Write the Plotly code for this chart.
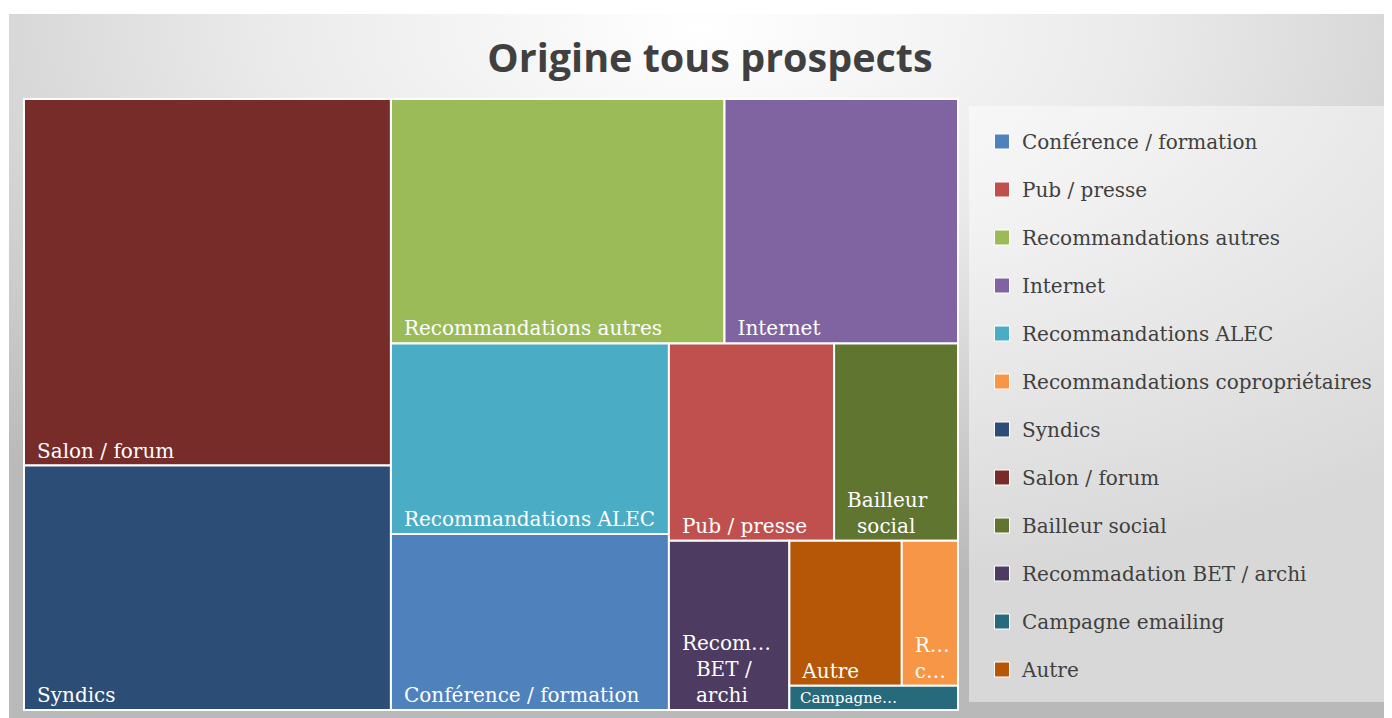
import base64
import plotly.graph_objects as go

# ---- data ----
categories = [
    "Conférence / formation",
    "Pub / presse",
    "Recommandations autres",
    "Internet",
    "Recommandations ALEC",
    "Recommandations copropriétaires",
    "Syndics",
    "Salon / forum",
    "Bailleur social",
    "Recommadation BET / archi",
    "Campagne emailing",
    "Autre",
]
values = [12, 8, 20, 14, 13, 2, 22, 33, 6, 5, 1, 4]
# text shown inside each tile (as truncated / wrapped in the original)
tile_text = [
    "Conférence / formation",
    "Pub / presse",
    "Recommandations autres",
    "Internet",
    "Recommandations ALEC",
    "R…<br>c…",
    "Syndics",
    "Salon / forum",
    "Bailleur<br>\u2002social",
    "Recom…<br>\u2002\u2009BET /<br>\u2002\u2009archi",
    "Campagne…",
    "Autre",
]
colors = [
    "#4F81BD", "#C0504D", "#9BBB59", "#8064A2", "#4BACC6", "#F79646",
    "#2C4D75", "#772C2A", "#5F7530", "#4D3B62", "#276A7C", "#B65708",
]

# page body has an 8px margin: figure is drawn from screen (8, 8)
OX, OY = 8, 8
W, H = 1392 - OX, 718 - OY


def fx(x):
    return (x - OX) / W


def fy(y):
    return 1 - (y - OY) / H


SERIF = "DejaVu Serif"
PAD = "\u2002"

fig = go.Figure()

fig.add_trace(go.Treemap(
    labels=categories,
    parents=[""] * len(categories),
    values=values,
    text=[PAD + t.replace("<br>", "<br>" + PAD) for t in tile_text],
    texttemplate="%{text}",
    textposition="bottom left",
    textfont=dict(family=SERIF, size=20, color="white"),
    marker=dict(colors=colors, line=dict(color="white", width=2),
                pad=dict(t=0, l=0, r=0, b=0)),
    tiling=dict(packing="squarify", squarifyratio=1.236, pad=0),
    pathbar=dict(visible=False),
    sort=True,
    hoverinfo="label+value",
    domain=dict(x=[fx(24), fx(958)], y=[fy(710), fy(99)]),
))

# legend entries (dummy traces)
for i, (name, c) in enumerate(zip(categories, colors)):
    fig.add_trace(go.Scatter(
        x=[None], y=[None], mode="markers", name=name,
        legendgroup=f"g{i}",
        marker=dict(symbol="square", size=15, color=c,
                    line=dict(color="white", width=1)),
    ))

gw, gh = 1392 - 9, 718 - 14
svg = f"""<svg xmlns='http://www.w3.org/2000/svg' width='{gw}' height='{gh}' viewBox='0 0 {gw} {gh}' preserveAspectRatio='none'>
<defs><radialGradient id='g' cx='0.5' cy='0.02' r='0.8' gradientUnits='objectBoundingBox'>
<stop offset='0' stop-color='#ffffff'/><stop offset='0.4' stop-color='#eaeaea'/><stop offset='1' stop-color='#b9b9b9'/></radialGradient></defs>
<rect x='0' y='0' width='{gw}' height='{gh}' fill='url(#g)'/></svg>"""
src = "data:image/svg+xml;base64," + base64.b64encode(svg.encode()).decode()

fig.update_layout(
    width=W, height=H,
    margin=dict(l=0, r=0, t=0, b=0),
    paper_bgcolor="white",
    plot_bgcolor="rgba(0,0,0,0)",
    xaxis=dict(visible=False, domain=[0, 1]),
    yaxis=dict(visible=False, domain=[0, 1]),
    title=dict(text="<b>Origine tous prospects</b>", x=fx(710), xanchor="center",
               y=fy(58), yanchor="middle",
               font=dict(family="Open Sans", size=39.5, color="#404040")),
    images=[dict(source=src, xref="paper", yref="paper", x=fx(9), y=fy(14),
                 sizex=gw / W, sizey=gh / H, xanchor="left", yanchor="top",
                 sizing="stretch", layer="below")],
    shapes=[dict(type="rect", xref="paper", yref="paper",
                 x0=fx(969), x1=fx(1392), y0=fy(702), y1=fy(106),
                 fillcolor="rgba(255,255,255,0.45)", line=dict(width=0), layer="below")],
    legend=dict(x=fx(982), xanchor="left", y=fy(122), yanchor="top",
                traceorder="grouped", tracegroupgap=19,
                font=dict(family=SERIF, size=20, color="#404040"),
                bgcolor="rgba(0,0,0,0)", itemclick=False, itemdoubleclick=False),
    showlegend=True,
)

fig.write_html("out.html")
